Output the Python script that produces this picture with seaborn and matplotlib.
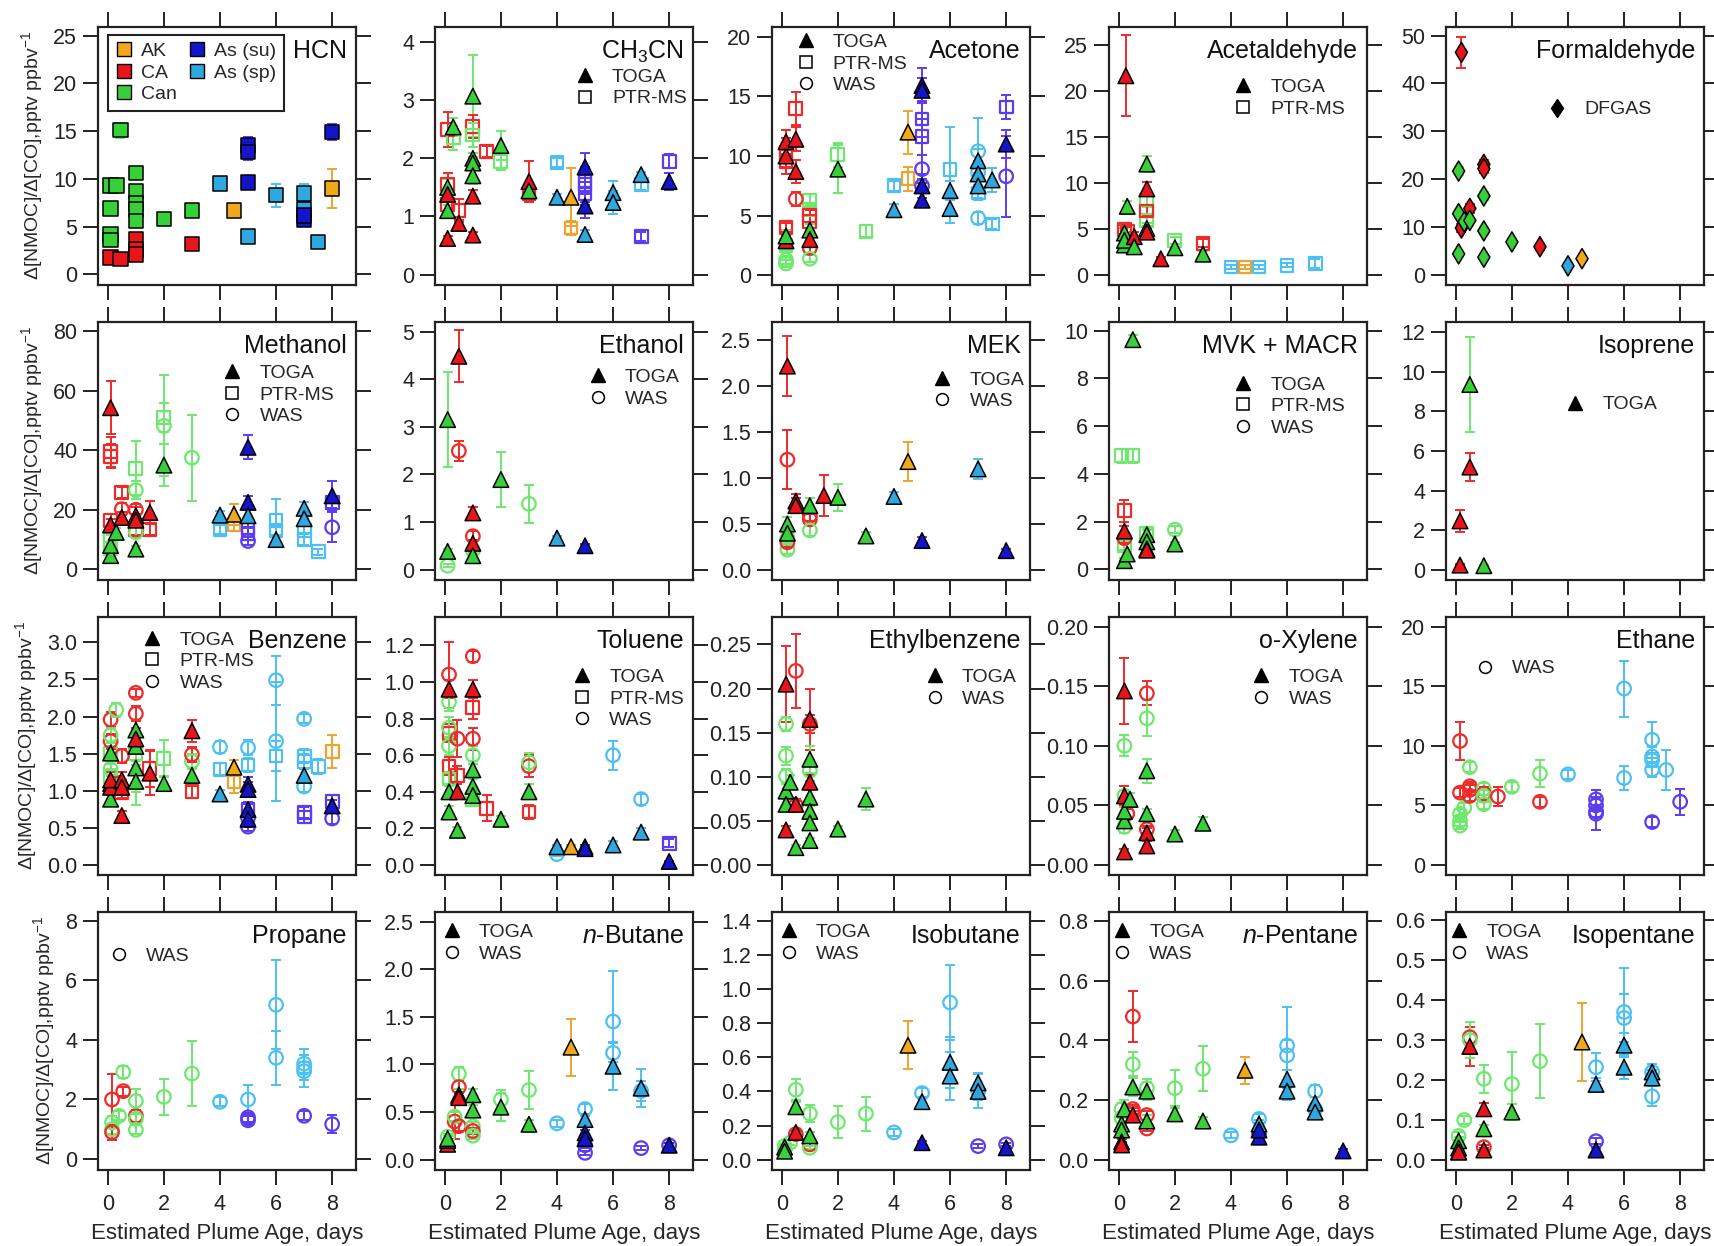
import numpy as np
import pandas as pd
import matplotlib
matplotlib.use("Agg")
import matplotlib.pyplot as plt
import seaborn as sns
from matplotlib.lines import Line2D
from matplotlib.ticker import FormatStrFormatter

# ---------------- data: (region, instrument, age [days], ratio, error) ----------------
# instruments: T=TOGA, P=PTR-MS, W=WAS, H=PTR-MS (HCN, filled), D=DFGAS
hcn = [("Can","H",0.1,9.3,0.4),("Can","H",0.1,6.9,0.3),("Can","H",0.1,4.2,0.3),("Can","H",0.1,3.6,0.2),
       ("Can","H",0.3,9.3,0.3),("Can","H",0.45,15.1,0.8),("Can","H",1.0,10.6,0.4),("Can","H",1.0,8.7,0.3),
       ("Can","H",1.0,7.4,0.3),("Can","H",1.0,6.8,0.3),("Can","H",1.0,5.6,0.3),("Can","H",2.0,5.8,0.3),
       ("Can","H",3.0,6.7,0.3),("CA","H",0.1,1.8,0.2),("CA","H",0.45,1.6,0.2),("CA","H",1.0,3.7,0.3),
       ("CA","H",1.0,2.6,0.2),("CA","H",1.0,2.1,0.2),("CA","H",3.0,3.2,0.2),("AK","H",4.5,6.7,0.3),
       ("AK","H",8.0,9.0,2.0),("Asp","H",4.0,9.5,0.3),("Asp","H",5.0,4.0,0.4),("Asp","H",6.0,8.3,1.2),
       ("Asp","H",7.0,8.5,1.0),("Asp","H",7.0,6.8,0.4),("Asp","H",7.5,3.4,0.3),("Asu","H",5.0,13.5,0.9),
       ("Asu","H",5.0,12.8,0.8),("Asu","H",5.0,9.6,0.4),("Asu","H",7.0,5.7,0.4),("Asu","H",7.0,6.2,0.4),
       ("Asu","H",8.0,14.9,0.8)]

ch3cn = [("Can","T",0.3,2.54,0.15),("Can","T",0.1,1.5,0.15),("Can","T",0.1,1.1,0.1),("CA","T",0.1,0.62,0.05),
         ("CA","T",0.1,1.38,0.1),("CA","T",0.5,0.88,0.05),("Can","T",1.0,3.07,0.7),("Can","T",1.0,2.0,0.1),
         ("Can","T",1.0,1.92,0.1),("Can","T",1.0,1.7,0.15),("CA","T",1.0,1.35,0.1),("CA","T",1.0,0.68,0.05),
         ("Can","T",2.0,2.22,0.25),("CA","T",3.0,1.6,0.35),("Can","T",3.0,1.44,0.1),("Asp","T",4.0,1.33,0.05),
         ("AK","T",4.5,1.33,0.5),("Asu","T",5.0,1.85,0.25),("Asu","T",5.0,1.18,0.2),("Asp","T",5.0,0.69,0.08),
         ("Asp","T",6.0,1.41,0.2),("Asp","T",6.0,1.24,0.2),("Asp","T",7.0,1.72,0.05),("Asu","T",8.0,1.6,0.15),
         ("CA","P",0.1,2.5,0.3),("CA","P",0.1,1.55,0.2),("CA","P",0.1,1.2,0.1),("Can","P",0.3,2.35,0.2),
         ("CA","P",0.5,1.1,0.2),("CA","P",1.0,2.55,0.2),("Can","P",1.0,2.4,0.2),("CA","P",1.5,2.12,0.1),
         ("Can","P",2.0,1.95,0.15),("CA","P",3.0,1.4,0.1),("Asp","P",4.0,1.93,0.08),("AK","P",4.5,0.8,0.12),
         ("Asu","P",5.0,1.55,0.3),("Asu","P",5.0,1.4,0.2),("Asu","P",5.0,1.6,0.2),("Asp","P",7.0,1.55,0.1),
         ("Asu","P",7.0,0.65,0.08),("Asu","P",8.0,1.95,0.12)]

acetone = [("CA","T",0.15,10.0,1.5),("CA","T",0.15,11.2,1.0),("CA","T",0.15,2.9,0.5),("Can","T",0.15,3.3,0.5),
           ("CA","T",0.5,11.4,1.0),("CA","T",0.5,8.7,1.0),("Can","T",1.0,3.8,0.5),("CA","T",1.0,3.0,0.4),
           ("Can","T",2.0,8.9,2.0),("Asp","T",4.0,5.5,0.5),("AK","T",4.5,12.0,1.8),("Asu","T",5.0,15.9,1.5),
           ("Asu","T",5.0,15.5,1.0),("Asu","T",5.0,6.3,0.6),("Asu","T",5.0,7.5,0.6),("Asp","T",6.0,7.1,0.8),
           ("Asp","T",6.0,5.6,1.2),("Asp","T",7.0,9.6,1.0),("Asp","T",7.0,8.5,1.0),("Asp","T",7.0,7.5,1.0),
           ("Asp","T",7.5,8.0,1.0),("Asu","T",8.0,11.0,1.2),
           ("CA","P",0.15,10.3,1.2),("CA","P",0.15,9.5,1.0),("CA","P",0.15,4.0,0.4),("Can","P",0.15,2.5,0.4),
           ("CA","P",0.5,14.0,1.4),("Can","P",1.0,6.3,0.5),("Can","P",1.0,5.5,0.5),("CA","P",1.0,5.0,0.5),
           ("CA","P",1.0,4.5,0.5),("Can","P",2.0,10.1,1.0),("Can","P",3.0,3.7,0.5),("Asp","P",4.0,7.5,0.4),
           ("AK","P",4.5,8.1,1.0),("Asu","P",5.0,13.1,1.5),("Asu","P",5.0,11.6,1.5),("Asp","P",6.0,8.9,3.5),
           ("Asp","P",7.0,6.9,0.6),("Asp","P",7.5,4.3,0.4),("Asu","P",8.0,14.1,1.0),
           ("Can","W",0.15,1.3,0.3),("Can","W",0.15,1.0,0.3),("CA","W",0.5,6.4,0.6),("CA","W",1.0,2.3,0.4),
           ("Can","W",1.0,1.4,0.3),("Asu","W",5.0,8.9,1.2),("Asu","W",5.0,7.5,1.0),("Asp","W",7.0,10.4,2.8),
           ("Asp","W",7.0,8.6,1.0),("Asp","W",7.0,4.8,0.5),("Asu","W",8.0,8.3,3.4)]

acetaldehyde = [("CA","T",0.25,21.7,4.4),("Can","T",0.2,4.6,0.5),("Can","T",0.2,3.3,0.4),("Can","T",0.2,3.8,0.4),
                ("Can","T",0.3,7.5,0.6),("CA","T",0.55,4.2,0.5),("Can","T",0.55,3.1,0.3),("Can","T",1.0,12.1,0.9),
                ("CA","T",1.0,9.4,0.8),("Can","T",1.0,5.1,0.6),("CA","T",1.0,4.7,0.5),("CA","T",1.5,1.8,0.2),
                ("Can","T",2.0,3.0,0.4),("Can","T",3.0,2.3,0.3),
                ("CA","P",0.2,5.0,0.5),("CA","P",0.3,4.8,0.5),("Can","P",1.0,8.2,0.8),("Can","P",1.0,6.0,0.6),
                ("CA","P",1.0,7.0,0.6),("Can","P",2.0,3.8,0.4),("CA","P",3.0,3.5,0.4),("Asp","P",4.0,0.9,0.2),
                ("AK","P",4.5,0.9,0.2),("Asp","P",5.0,0.9,0.2),("Asp","P",6.0,1.1,0.2),("Asp","P",7.0,1.3,0.5)]

formaldehyde = [("CA","D",0.2,46.5,3.3),("Can","D",0.1,21.7,0.8),("Can","D",0.1,12.8,0.8),("Can","D",0.1,4.4,0.5),
                ("CA","D",0.2,9.8,0.8),("Can","D",0.3,11.1,0.6),("CA","D",0.5,13.9,1.0),("Can","D",0.5,11.4,0.6),
                ("CA","D",1.0,23.1,1.0),("CA","D",1.0,22.2,0.8),("Can","D",1.0,16.5,0.8),("Can","D",1.0,9.2,0.6),
                ("Can","D",1.0,3.7,0.5),("Can","D",2.0,6.9,0.6),("CA","D",3.0,5.9,0.6),("Asp","D",4.0,1.9,0.5),
                ("AK","D",4.5,3.4,0.5)]

methanol = [("CA","T",0.1,54.3,9),("CA","T",0.1,14.9,2),("Can","T",0.1,4.6,1),("Can","T",0.1,8.0,1),
            ("Can","T",0.3,12.4,1.5),("CA","T",0.5,17.4,2),("CA","T",1.0,18.0,3),("CA","T",1.0,16.5,2),
            ("Can","T",1.0,6.8,1),("CA","T",1.5,19.1,4),("Can","T",2.0,35.0,7),("Asp","T",4.0,18.2,1.5),
            ("AK","T",4.5,18.5,3.5),("Asu","T",5.0,41.0,4),("Asu","T",5.0,22.5,2),("Asp","T",5.0,18.0,2),
            ("Asp","T",6.0,10.0,1.5),("Asp","T",7.0,20.5,2),("Asp","T",7.0,17.0,2),("Asu","T",8.0,24.7,5),
            ("CA","P",0.1,39.5,5),("CA","P",0.1,38.0,4),("CA","P",0.1,16.5,2),("Can","P",0.1,10.0,1.5),
            ("Can","P",0.1,7.0,1),("CA","P",0.5,25.8,2),("Can","P",1.0,34.0,9),("CA","P",1.0,13.5,2),
            ("CA","P",1.5,13.5,2),("Can","P",2.0,51.0,5),("Asp","P",4.0,13.5,1.5),("AK","P",4.5,15.0,2),
            ("Asu","P",5.0,14.0,2),("Asu","P",5.0,12.0,2),("Asp","P",6.0,16.5,7),("Asp","P",6.0,13.0,2),
            ("Asp","P",7.0,13.0,2),("Asp","P",7.0,10.0,2),("Asp","P",7.5,5.9,1),("Asu","P",8.0,22.5,2),
            ("CA","W",0.5,20.2,2),("CA","W",1.0,20.0,2),("Can","W",1.0,26.6,3),("Can","W",1.0,12.4,2),
            ("Can","W",2.0,48.2,17),("Can","W",3.0,37.5,14.5),("Asu","W",5.0,9.5,1.5),("Asu","W",8.0,14.1,5)]

ethanol = [("Can","T",0.1,3.15,1.0),("Can","T",0.1,0.38,0.05),("CA","T",0.5,4.48,0.55),("CA","T",1.0,1.19,0.12),
           ("CA","T",1.0,0.55,0.08),("Can","T",1.0,0.29,0.05),("Can","T",2.0,1.89,0.57),("Asp","T",4.0,0.66,0.05),
           ("Asu","T",5.0,0.5,0.04),
           ("Can","W",0.1,0.08,0.03),("CA","W",0.5,2.49,0.22),("CA","W",1.0,0.7,0.1),("Can","W",1.0,0.4,0.05),
           ("Can","W",3.0,1.38,0.4)]

mek = [("CA","T",0.2,2.22,0.33),("Can","T",0.2,0.5,0.08),("Can","T",0.2,0.4,0.06),("CA","T",0.5,0.75,0.08),
       ("CA","T",0.5,0.7,0.08),("Can","T",1.0,0.7,0.08),("CA","T",1.5,0.81,0.22),("Can","T",2.0,0.79,0.15),
       ("Can","T",3.0,0.37,0.04),("Asp","T",4.0,0.8,0.05),("AK","T",4.5,1.18,0.21),("Asu","T",5.0,0.32,0.04),
       ("Asp","T",7.0,1.1,0.11),("Asu","T",8.0,0.21,0.02),
       ("CA","W",0.2,1.2,0.32),("Can","W",0.2,0.22,0.05),("Can","W",0.2,0.35,0.05),("CA","W",0.2,0.3,0.05),
       ("CA","W",1.0,0.59,0.06),("CA","W",1.0,0.55,0.06),("Can","W",1.0,0.43,0.06)]

mvk_macr = [("Can","T",0.5,9.62,0.2),("CA","T",0.2,1.6,0.2),("Can","T",0.2,0.36,0.1),("Can","T",0.3,0.64,0.1),
            ("Can","T",1.0,1.45,0.2),("Can","T",1.0,1.15,0.15),("Can","T",1.0,0.85,0.1),("CA","T",1.0,0.8,0.1),
            ("Can","T",2.0,1.06,0.1),
            ("Can","P",0.1,4.75,0.3),("Can","P",0.5,4.75,0.3),("CA","P",0.2,2.45,0.45),("Can","P",0.2,1.0,0.2),
            ("Can","P",1.0,1.5,0.2),
            ("CA","W",0.2,1.3,0.2),("Can","W",2.0,1.66,0.15)]

isoprene = [("CA","T",0.15,2.48,0.55),("CA","T",0.15,0.25,0.05),("Can","T",0.5,9.35,2.4),("CA","T",0.5,5.19,0.7),
            ("Can","T",1.0,0.22,0.05)]

benzene = [("Can","T",0.1,1.51,0.15),("Can","T",0.1,0.89,0.08),("Can","T",0.1,1.1,0.1),("CA","T",0.1,1.05,0.1),
           ("CA","T",0.1,1.15,0.1),("CA","T",0.5,1.15,0.1),("CA","T",0.5,1.05,0.1),("CA","T",0.5,0.67,0.06),
           ("Can","T",1.0,1.82,0.15),("Can","T",1.0,1.6,0.2),("Can","T",1.0,1.31,0.5),("Can","T",1.0,1.13,0.15),
           ("CA","T",1.0,1.7,0.15),("CA","T",1.5,1.24,0.3),("Can","T",2.0,1.1,0.1),("CA","T",3.0,1.81,0.15),
           ("Can","T",3.0,1.21,0.1),("Asp","T",4.0,0.96,0.05),("AK","T",4.5,1.32,0.1),("Asu","T",5.0,1.09,0.1),
           ("Asu","T",5.0,1.02,0.1),("Asu","T",5.0,0.75,0.1),("Asu","T",5.0,0.62,0.1),("Asp","T",7.0,1.21,0.1),
           ("Asu","T",8.0,0.8,0.08),
           ("Can","P",0.1,1.5,0.1),("Can","P",0.1,1.2,0.1),("CA","P",0.3,1.1,0.1),("CA","P",0.5,0.98,0.08),
           ("Can","P",1.0,1.5,0.15),("CA","P",1.5,1.3,0.25),("Can","P",2.0,1.44,0.25),("CA","P",3.0,0.99,0.08),
           ("Asp","P",4.0,1.29,0.08),("AK","P",4.5,1.12,0.15),("Asp","P",5.0,1.35,0.1),("Asu","P",5.0,0.75,0.08),
           ("Asp","P",6.0,1.47,0.2),("Asp","P",7.0,1.47,0.1),("Asp","P",7.0,1.4,0.1),("Asu","P",7.0,0.71,0.08),
           ("Asu","P",7.0,0.65,0.08),("Asp","P",7.5,1.33,0.1),("AK","P",8.0,1.53,0.22),("Asu","P",8.0,0.86,0.08),
           ("CA","W",0.1,1.96,0.1),("CA","W",0.1,1.67,0.1),("Can","W",0.1,1.75,0.1),("Can","W",0.1,1.3,0.1),
           ("Can","W",0.3,2.09,0.1),("CA","W",0.5,1.47,0.1),("CA","W",1.0,2.32,0.05),("CA","W",1.0,2.04,0.1),
           ("Can","W",3.0,1.4,0.1),("CA","W",3.0,1.49,0.1),("Asp","W",4.0,1.59,0.08),("Asp","W",5.0,1.58,0.1),
           ("Asu","W",5.0,0.64,0.08),("Asu","W",5.0,0.52,0.06),("Asp","W",6.0,2.49,0.33),("Asp","W",6.0,1.67,0.8),
           ("Asp","W",7.0,1.97,0.06),("Asp","W",7.0,1.06,0.08),("Asu","W",8.0,0.63,0.08)]

toluene = [("CA","T",0.15,0.96,0.05),("Can","T",0.15,0.4,0.04),("Can","T",0.15,0.29,0.03),("CA","T",0.45,0.4,0.04),
           ("Can","T",0.45,0.19,0.02),("CA","T",1.0,0.96,0.05),("Can","T",1.0,0.52,0.05),("Can","T",1.0,0.43,0.05),
           ("Can","T",1.0,0.38,0.04),("Can","T",2.0,0.25,0.02),("Can","T",3.0,0.4,0.04),("Asp","T",4.0,0.1,0.01),
           ("AK","T",4.5,0.1,0.01),("Asu","T",5.0,0.1,0.01),("Asu","T",5.0,0.09,0.01),("Asp","T",6.0,0.11,0.02),
           ("Asp","T",7.0,0.18,0.02),("Asu","T",8.0,0.02,0.005),
           ("CA","P",0.15,0.72,0.05),("CA","P",0.15,0.54,0.05),("Can","P",0.15,0.47,0.04),("CA","P",0.45,0.49,0.05),
           ("CA","P",1.0,0.86,0.06),("Can","P",1.0,0.36,0.03),("CA","P",1.5,0.31,0.07),("CA","P",3.0,0.29,0.04),
           ("Asu","P",8.0,0.12,0.02),
           ("CA","W",0.15,1.04,0.18),("Can","W",0.15,0.89,0.05),("Can","W",0.15,0.75,0.06),("Can","W",0.15,0.65,0.05),
           ("CA","W",0.45,0.69,0.1),("CA","W",1.0,1.14,0.03),("CA","W",1.0,0.69,0.06),("Can","W",1.0,0.6,0.05),
           ("CA","W",3.0,0.54,0.06),("Can","W",3.0,0.56,0.05),("Asp","W",4.0,0.06,0.01),("Asp","W",6.0,0.6,0.08),
           ("Asp","W",7.0,0.36,0.03)]

ethylbenzene = [("CA","T",0.15,0.205,0.043),("Can","T",0.15,0.084,0.008),("Can","T",0.15,0.069,0.006),
                ("Can","T",0.3,0.094,0.008),("CA","T",0.15,0.04,0.005),("CA","T",0.5,0.069,0.006),
                ("Can","T",0.5,0.02,0.003),("CA","T",1.0,0.165,0.035),("Can","T",1.0,0.12,0.015),
                ("Can","T",1.0,0.077,0.008),("Can","T",1.0,0.061,0.006),("Can","T",1.0,0.048,0.005),
                ("Can","T",1.0,0.028,0.003),("CA","T",1.0,0.094,0.008),("Can","T",2.0,0.041,0.004),
                ("Can","T",3.0,0.075,0.012),
                ("Can","W",0.15,0.16,0.008),("Can","W",0.15,0.124,0.01),("Can","W",0.15,0.101,0.008),
                ("CA","W",0.5,0.22,0.042),("CA","W",0.5,0.068,0.005),("CA","W",1.0,0.16,0.01),("Can","W",1.0,0.107,0.012)]

o_xylene = [("CA","T",0.2,0.146,0.028),("Can","T",0.2,0.037,0.004),("Can","T",0.2,0.045,0.004),
            ("CA","T",0.2,0.011,0.002),("CA","T",0.2,0.058,0.008),("Can","T",0.4,0.055,0.005),
            ("Can","T",1.0,0.079,0.01),("Can","T",1.0,0.043,0.004),("CA","T",1.0,0.027,0.004),
            ("CA","T",1.0,0.016,0.004),("Can","T",2.0,0.026,0.003),("Can","T",3.0,0.035,0.005),
            ("Can","W",0.2,0.1,0.009),("Can","W",0.2,0.058,0.005),("Can","W",0.2,0.032,0.005),
            ("CA","W",0.3,0.043,0.004),("CA","W",1.0,0.144,0.01),("Can","W",1.0,0.123,0.015),("CA","W",1.0,0.03,0.003)]

ethane = [("CA","W",0.15,10.4,1.6),("CA","W",0.15,6.07,0.4),("Can","W",0.15,4.3,0.4),("Can","W",0.15,3.7,0.4),
          ("Can","W",0.15,3.3,0.3),("Can","W",0.3,4.8,0.4),("Can","W",0.5,8.2,0.4),("CA","W",0.5,6.6,0.4),
          ("CA","W",0.5,5.8,0.4),("CA","W",0.5,6.3,0.4),("Can","W",1.0,6.4,0.5),("CA","W",1.0,6.0,0.5),
          ("Can","W",1.0,5.8,0.5),("Can","W",1.0,5.1,0.4),("CA","W",1.5,5.74,0.8),("Can","W",2.0,6.55,0.4),
          ("Can","W",3.0,7.66,1.15),("CA","W",3.0,5.3,0.4),("Asp","W",4.0,7.6,0.4),("Asu","W",5.0,5.5,0.8),
          ("Asu","W",5.0,5.0,0.5),("Asu","W",5.0,4.5,0.5),("Asu","W",5.0,4.3,1.4),("Asp","W",6.0,14.8,2.35),
          ("Asp","W",6.0,7.3,1.0),("Asp","W",7.0,10.5,1.5),("Asp","W",7.0,9.1,0.8),("Asp","W",7.0,8.8,0.6),
          ("Asp","W",7.0,8.0,0.6),("Asu","W",7.0,3.6,0.4),("Asp","W",7.5,7.97,1.7),("Asu","W",8.0,5.3,1.1)]

propane = [("CA","W",0.15,2.0,0.85),("Can","W",0.15,1.23,0.2),("Can","W",0.15,1.0,0.15),("CA","W",0.15,0.9,0.25),
           ("Can","W",0.4,1.45,0.15),("Can","W",0.55,2.92,0.2),("CA","W",0.55,2.28,0.15),("CA","W",1.0,1.45,0.2),
           ("Can","W",1.0,1.95,0.4),("Can","W",1.0,0.98,0.15),("Can","W",1.0,1.35,0.15),("Can","W",2.0,2.09,0.6),
           ("Can","W",3.0,2.87,1.1),("Asp","W",4.0,1.92,0.15),("Asp","W",5.0,2.0,0.5),("Asu","W",5.0,1.4,0.15),
           ("Asu","W",5.0,1.3,0.15),("Asp","W",6.0,5.18,1.5),("Asp","W",6.0,3.4,0.9),("Asp","W",7.0,3.06,0.65),
           ("Asp","W",7.0,3.2,0.3),("Asp","W",7.0,2.95,0.3),("Asu","W",7.0,1.45,0.15),("Asu","W",8.0,1.17,0.3)]

n_butane = [("CA","T",0.1,0.16,0.02),("CA","T",0.1,0.2,0.02),("Can","T",0.1,0.22,0.03),("Can","T",0.5,0.68,0.06),
            ("CA","T",0.5,0.65,0.06),("Can","T",1.0,0.68,0.06),("Can","T",1.0,0.52,0.05),("Can","T",2.0,0.55,0.15),
            ("Can","T",3.0,0.37,0.05),("AK","T",4.5,1.18,0.3),("Asp","T",5.0,0.42,0.04),("Asu","T",5.0,0.28,0.03),
            ("Asu","T",5.0,0.22,0.03),("Asp","T",6.0,0.98,0.25),("Asp","T",7.0,0.75,0.2),("Asu","T",8.0,0.15,0.02),
            ("Can","W",0.1,0.24,0.03),("CA","W",0.35,0.4,0.18),("Can","W",0.35,0.45,0.05),("Can","W",0.5,0.9,0.07),
            ("CA","W",0.5,0.76,0.06),("CA","W",0.5,0.35,0.05),("Can","W",1.0,0.35,0.04),("CA","W",1.0,0.3,0.03),
            ("Can","W",1.0,0.25,0.03),("Can","W",2.0,0.63,0.1),("Can","W",3.0,0.73,0.2),("Asp","W",4.0,0.38,0.04),
            ("Asp","W",5.0,0.53,0.05),("Asu","W",5.0,0.15,0.03),("Asu","W",5.0,0.07,0.02),("Asp","W",6.0,1.45,0.53),
            ("Asp","W",6.0,1.12,0.1),("Asp","W",7.0,0.72,0.1),("Asu","W",7.0,0.12,0.02),("Asu","W",8.0,0.15,0.02)]

isobutane = [("Can","T",0.1,0.074,0.01),("Can","T",0.1,0.05,0.01),("Can","T",0.5,0.31,0.03),("CA","T",0.5,0.16,0.02),
             ("Can","T",1.0,0.14,0.02),("AK","T",4.5,0.67,0.14),("Asp","T",5.0,0.34,0.03),("Asu","T",5.0,0.1,0.01),
             ("Asp","T",6.0,0.57,0.15),("Asp","T",6.0,0.49,0.14),("Asp","T",7.0,0.45,0.06),("Asp","T",7.0,0.4,0.1),
             ("Asu","T",8.0,0.07,0.01),
             ("Can","W",0.1,0.08,0.01),("Can","W",0.1,0.06,0.01),("Can","W",0.3,0.1,0.015),("Can","W",0.5,0.41,0.06),
             ("CA","W",0.5,0.15,0.02),("Can","W",1.0,0.27,0.05),("CA","W",1.0,0.09,0.01),("Can","W",1.0,0.07,0.01),
             ("Can","W",2.0,0.22,0.095),("Can","W",3.0,0.27,0.1),("Asp","W",4.0,0.16,0.02),("Asp","W",5.0,0.39,0.03),
             ("Asp","W",6.0,0.92,0.22),("Asp","W",7.0,0.4,0.05),("Asu","W",7.0,0.08,0.01),("Asu","W",8.0,0.09,0.01)]

n_pentane = [("Can","T",0.1,0.12,0.02),("Can","T",0.1,0.1,0.02),("Can","T",0.2,0.17,0.03),("CA","T",0.1,0.06,0.01),
             ("CA","T",0.1,0.05,0.01),("Can","T",0.5,0.244,0.03),("CA","T",0.5,0.15,0.015),("Can","T",1.0,0.23,0.03),
             ("Can","T",1.0,0.13,0.02),("Can","T",2.0,0.154,0.02),("Can","T",3.0,0.13,0.015),("AK","T",4.5,0.3,0.045),
             ("Asp","T",5.0,0.12,0.015),("Asu","T",5.0,0.076,0.01),("Asu","T",5.0,0.1,0.01),("Asp","T",6.0,0.27,0.03),
             ("Asp","T",6.0,0.23,0.03),("Asp","T",7.0,0.19,0.02),("Asp","T",7.0,0.16,0.02),("Asu","T",8.0,0.03,0.005),
             ("Can","W",0.1,0.14,0.02),("Can","W",0.1,0.17,0.02),("CA","W",0.5,0.48,0.085),("Can","W",0.5,0.32,0.04),
             ("CA","W",0.5,0.17,0.015),("CA","W",0.5,0.16,0.015),("Can","W",1.0,0.24,0.03),("CA","W",1.0,0.15,0.015),
             ("CA","W",1.0,0.105,0.01),("Can","W",2.0,0.24,0.06),("Can","W",3.0,0.305,0.075),("Asp","W",4.0,0.082,0.01),
             ("Asp","W",5.0,0.137,0.015),("Asu","W",5.0,0.09,0.01),("Asp","W",6.0,0.383,0.13),("Asp","W",6.0,0.35,0.05),
             ("Asp","W",7.0,0.23,0.02),("Asp","W",7.0,0.17,0.02)]

isopentane = [("Can","T",0.1,0.048,0.01),("Can","T",0.1,0.03,0.01),("Can","T",0.1,0.02,0.005),("CA","T",0.1,0.02,0.005),
              ("CA","T",0.5,0.284,0.048),("CA","T",1.0,0.128,0.015),("Can","T",1.0,0.078,0.01),("CA","T",1.0,0.025,0.005),
              ("Can","T",2.0,0.12,0.02),("AK","T",4.5,0.295,0.097),("Asp","T",5.0,0.189,0.015),("Asu","T",5.0,0.025,0.005),
              ("Asp","T",6.0,0.287,0.03),("Asp","T",6.0,0.232,0.03),("Asp","T",7.0,0.22,0.02),("Asp","T",7.0,0.205,0.02),
              ("Can","W",0.1,0.06,0.01),("Can","W",0.3,0.1,0.01),("CA","W",0.5,0.307,0.025),("Can","W",0.5,0.3,0.045),
              ("Can","W",1.0,0.203,0.035),("CA","W",1.0,0.032,0.005),("Can","W",2.0,0.19,0.08),("Can","W",3.0,0.247,0.092),
              ("Asp","W",5.0,0.232,0.035),("Asu","W",5.0,0.047,0.008),("Asp","W",6.0,0.37,0.11),("Asp","W",6.0,0.355,0.06),
              ("Asp","W",7.0,0.159,0.025),("Asp","W",7.0,0.22,0.02)]

region_labels = {"AK": "AK", "CA": "CA", "Can": "Can", "Asu": "As (su)", "Asp": "As (sp)"}
instrument_labels = {"T": "TOGA", "P": "PTR-MS", "W": "WAS", "D": "DFGAS"}
age_ticks = [0, 2, 4, 6, 8]

# ---------------- styling ----------------
sns.set_theme(style="ticks")
plt.rcParams["font.family"] = ["Liberation Sans", "DejaVu Sans"]
plt.rcParams["mathtext.fontset"] = "custom"
plt.rcParams["mathtext.rm"] = "Liberation Sans"
plt.rcParams["mathtext.it"] = "Liberation Sans:italic"

FILL = {"AK": "#F2A81D", "CA": "#E8161B", "Can": "#38D038", "Asu": "#1414C8", "Asp": "#2EA8DE"}
OPEN = {"AK": "#EFA32C", "CA": "#EE2A2A", "Can": "#6EE86E", "Asu": "#5B3CEF", "Asp": "#4CC0F2"}
MARK = {"T": "^", "P": "s", "W": "o", "H": "s", "D": "d"}
SIZE = {"T": 125, "P": 85, "W": 95, "H": 110, "D": 105}

panels = [
    ("HCN", hcn, (-1.1, 25.9), 5, 25, "%d", None),
    ("CH$_3$CN", ch3cn, (-0.18, 4.26), 1, 4, "%d", (["T", "P"], "upper left", (0.55, 0.84))),
    ("Acetone", acetone, (-0.8, 20.8), 5, 20, "%d", (["T", "P", "W"], "upper left", (0.10, 0.975))),
    ("Acetaldehyde", acetaldehyde, (-1.05, 27.0), 5, 25, "%d", (["T", "P"], "upper left", (0.49, 0.80))),
    ("Formaldehyde", formaldehyde, (-2.1, 51.8), 10, 50, "%d", (["D"], "center left", (0.40, 0.68))),
    ("Methanol", methanol, (-3.6, 83.1), 20, 80, "%d", (["T", "P", "W"], "upper left", (0.49, 0.835))),
    ("Ethanol", ethanol, (-0.22, 5.2), 1, 5, "%d", (["T", "W"], "upper left", (0.60, 0.82))),
    ("MEK", mek, (-0.11, 2.7), 0.5, 2.5, "%.1f", (["T", "W"], "upper left", (0.63, 0.81))),
    ("MVK + MACR", mvk_macr, (-0.45, 10.36), 2, 10, "%d", (["T", "P", "W"], "upper left", (0.49, 0.79))),
    ("Isoprene", isoprene, (-0.5, 12.5), 2, 12, "%d", (["T"], "center left", (0.47, 0.68))),
    ("Benzene", benzene, (-0.13, 3.34), 0.5, 3.0, "%.1f", (["T", "P", "W"], "upper left", (0.18, 0.945))),
    ("Toluene", toluene, (-0.054, 1.354), 0.2, 1.2, "%.1f", (["T", "P", "W"], "upper left", (0.54, 0.80))),
    ("Ethylbenzene", ethylbenzene, (-0.011, 0.281), 0.05, 0.25, "%.2f", (["T", "W"], "upper left", (0.60, 0.80))),
    ("o-Xylene", o_xylene, (-0.0084, 0.208), 0.05, 0.20, "%.2f", (["T", "W"], "upper left", (0.56, 0.80))),
    ("Ethane", ethane, (-0.84, 20.8), 5, 20, "%d", (["W"], "center left", (0.12, 0.80))),
    ("Propane", propane, (-0.37, 8.3), 2, 8, "%d", (["W"], "center left", (0.05, 0.83))),
    ("$\\it{n}$-Butane", n_butane, (-0.11, 2.6), 0.5, 2.5, "%.1f", (["T", "W"], "upper left", (0.035, 0.955))),
    ("Isobutane", isobutane, (-0.06, 1.45), 0.2, 1.4, "%.1f", (["T", "W"], "upper left", (0.035, 0.955))),
    ("$\\it{n}$-Pentane", n_pentane, (-0.034, 0.83), 0.2, 0.8, "%.1f", (["T", "W"], "upper left", (0.02, 0.955))),
    ("Isopentane", isopentane, (-0.025, 0.62), 0.1, 0.6, "%.1f", (["T", "W"], "upper left", (0.02, 0.955))),
]

W, H = 1714, 1246
fig = plt.figure(figsize=(W / 100, H / 100), dpi=100)
fig.patch.set_facecolor("white")

box_w, box_h = 258, 258
lefts = [98 + 337 * i for i in range(5)]
tops = [27, 322, 617, 912]


def legend_handle(code):
    if code == "T":
        return Line2D([], [], ls="none", marker="^", ms=9.5, mfc="black", mec="black")
    if code == "D":
        return Line2D([], [], ls="none", marker="d", ms=9.5, mfc="black", mec="black")
    return Line2D([], [], ls="none", marker=MARK[code], ms=8.5, mfc="none", mec="black", mew=1.1)


for k, (title, recs, ylim, step, top, fmt, leg) in enumerate(panels):
    r, c = divmod(k, 5)
    ax = fig.add_axes([lefts[c] / W, 1 - (tops[r] + box_h) / H, box_w / W, box_h / H])
    df = pd.DataFrame(recs, columns=["region", "inst", "age", "val", "err"])

    for row in df.itertuples():
        if row.err > 0:
            ax.errorbar(row.age, row.val, yerr=row.err, fmt="none", ecolor=OPEN[row.region],
                        elinewidth=1.4, capsize=3.5, capthick=1.4, zorder=2)

    for inst in ["P", "W", "H", "D", "T"]:
        sub = df[df["inst"] == inst]
        if sub.empty:
            continue
        if inst in ("P", "W"):
            sns.scatterplot(data=sub, x="age", y="val", hue="region", palette=OPEN, marker=MARK[inst],
                            s=SIZE[inst], legend=False, ax=ax, zorder=3, linewidth=1.6)
            coll = ax.collections[-1]
            fc = coll.get_facecolors()
            coll.set_edgecolors(fc)
            coll.set_facecolors("none")
        else:
            sns.scatterplot(data=sub, x="age", y="val", hue="region", palette=FILL, marker=MARK[inst],
                            s=SIZE[inst], legend=False, ax=ax, zorder=4, edgecolor="black", linewidth=1.1)

    ax.set_xlim(-0.35, 8.85)
    ax.set_xticks(age_ticks)
    ax.set_ylim(*ylim)
    ax.set_yticks(np.arange(0, top + step / 2, step))
    ax.yaxis.set_major_formatter(FormatStrFormatter(fmt))
    ax.tick_params(axis="both", direction="out", length=11, width=1.4, top=True, right=True,
                   labelsize=15.5, pad=4, colors="#222222")
    for sp in ax.spines.values():
        sp.set_linewidth(1.6)
        sp.set_color("#222222")
    ax.set_xlabel("")
    ax.set_ylabel("")
    if r == 3:
        ax.tick_params(axis="x", pad=6)
        ax.set_xlabel("Estimated Plume Age, days", fontsize=16, labelpad=6)
    else:
        ax.tick_params(labelbottom=False)
    if c == 0:
        ax.set_ylabel("Δ[NMOC]/Δ[CO],pptv ppbv$^{-1}$", fontsize=14, labelpad=6)

    ax.text(0.965, 0.955, title, transform=ax.transAxes, ha="right", va="top", fontsize=18,
            color="#111111")

    if leg is None:
        handles = [Line2D([], [], ls="none", marker="s", ms=9.5, mfc=FILL[g], mec="black", mew=1.0)
                   for g in ["AK", "CA", "Can", "Asu", "Asp"]]
        labels = [region_labels[g] for g in ["AK", "CA", "Can", "Asu", "Asp"]]
        lg = ax.legend(handles, labels, loc="upper left", bbox_to_anchor=(0.04, 0.97), ncol=2,
                       frameon=True, fancybox=False, fontsize=14, handlelength=0.8, handletextpad=0.5,
                       columnspacing=0.6, labelspacing=0.2, borderpad=0.4, borderaxespad=0)
        lg.get_frame().set_edgecolor("#222222")
        lg.get_frame().set_linewidth(1.5)
        lg.get_frame().set_alpha(1)
    else:
        codes, loc, anchor = leg
        lg = ax.legend([legend_handle(cd) for cd in codes], [instrument_labels[cd] for cd in codes],
                       loc=loc, bbox_to_anchor=anchor, frameon=False, fontsize=14, handlelength=0.8,
                       handletextpad=1.0, labelspacing=0.2, borderpad=0, borderaxespad=0)

fig.savefig("out.png", dpi=100, facecolor="white")
